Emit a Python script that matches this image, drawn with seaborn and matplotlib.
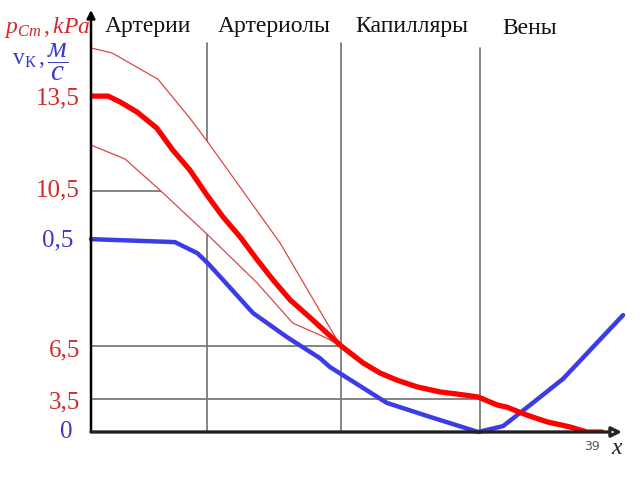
import numpy as np
import matplotlib
matplotlib.use('Agg')
import matplotlib.pyplot as plt
import seaborn as sns

sns.set_theme(style='white')
plt.rcParams['font.family'] = ['Liberation Serif', 'DejaVu Serif']
plt.rcParams['mathtext.fontset'] = 'custom'
plt.rcParams['mathtext.rm'] = 'Liberation Serif'
plt.rcParams['mathtext.it'] = 'Liberation Serif:italic'
plt.rcParams['mathtext.bf'] = 'Liberation Serif:bold'

# ---- data (x: position along the vessel, 0-100; y: schematic scale 0-100) ----
pressure_x = [0, 3.2, 5.5, 8.7, 12.4, 15.4, 18.6, 21.8, 24.9, 28.1, 31.3, 34.3, 37.5,
              41.8, 46.9, 51.2, 54.4, 57.6, 61.4, 65.7, 68.9, 72.9, 76.5, 78.3,
              82.1, 85.9, 90.2, 93.4, 96.2]
pressure_y = [79.6, 79.6, 78.2, 75.8, 72.0, 66.8, 62.1, 56.2, 50.9, 46.2, 40.8, 36.0, 31.3,
              26.5, 20.6, 16.4, 14.0, 12.3, 10.7, 9.5, 9.0, 8.3, 6.4, 5.9,
              4.0, 2.4, 1.2, 0.0, 0.0]

upper_x = [0, 4.0, 12.6, 18.6, 22.0, 35.6, 46.9]
upper_y = [91.0, 89.8, 83.6, 74.4, 68.7, 44.8, 20.6]

lower_x = [0, 6.4, 13.0, 22.0, 31.3, 38.0, 43.1, 46.9]
lower_y = [68.0, 64.7, 57.3, 46.7, 35.3, 25.8, 23.0, 20.6]

velocity_x = [0, 15.8, 20.0, 22.0, 24.9, 30.5, 36.9, 43.1, 45.0, 55.7, 63.8, 72.9,
              77.6, 82.7, 88.9, 100.2]
velocity_y = [45.7, 45.0, 42.4, 40.0, 36.0, 28.2, 22.5, 17.5, 15.4, 6.9, 3.6, 0.0,
              1.4, 6.4, 12.6, 27.7]

regions = ['Артерии', 'Артериолы', 'Капилляры', 'Вены']
region_x = [10.7, 34.5, 60.4, 82.6]
region_y = [94.8, 94.8, 94.8, 94.2]
boundaries_x = [21.8, 47.1, 73.3]
boundaries_top = [92.2, 92.2, 91.0]

hlines_y = [57.1, 20.4, 7.8]
hlines_end = [21.8, 47.1, 73.3]

tick_pos = [79.6, 57.8, 46.0, 19.9, 7.6, 0.5]
tick_labels = ['13,5', '10,5', '0,5', '6,5', '3,5', '0']
tick_kind = ['p', 'p', 'v', 'p', 'p', 'v']

RED_TXT = '#d42a2a'
BLUE_TXT = '#3a3ac8'
RED = '#ff0000'
THIN = '#d84848'
BLUE = '#3c3ce6'
GRAY = '#7a7a7a'

fig = plt.figure(figsize=(6.4, 4.8), dpi=100)
ax = fig.add_axes([91 / 640, 48 / 480, 531 / 640, 422 / 480])
ax.set_xlim(0, 100)
ax.set_ylim(0, 100)
for s in ax.spines.values():
    s.set_visible(False)
ax.set_xticks([])

# grid / boundary lines
for xb, top in zip(boundaries_x, boundaries_top):
    ax.plot([xb, xb], [0, top], color=GRAY, lw=1.3, zorder=1)
for yh, xe in zip(hlines_y, hlines_end):
    ax.plot([0, xe], [yh, yh], color=GRAY, lw=1.3, zorder=1)

# white band between the pressure envelope lines
ax.fill(np.r_[upper_x, lower_x[::-1]], np.r_[upper_y, lower_y[::-1]],
        color='white', zorder=2, lw=0)

sns.lineplot(x=upper_x, y=upper_y, ax=ax, color=THIN, lw=0.9, zorder=3, sort=False)
sns.lineplot(x=lower_x, y=lower_y, ax=ax, color=THIN, lw=0.9, zorder=3, sort=False)
sns.lineplot(x=velocity_x, y=velocity_y, ax=ax, color=BLUE, lw=3.2, zorder=4,
             sort=False, clip_on=False)
sns.lineplot(x=pressure_x, y=pressure_y, ax=ax, color=RED, lw=3.8, zorder=5, sort=False)

# axes arrows
ax.annotate('', xy=(0, 100), xytext=(0, 0), xycoords='data',
            arrowprops=dict(arrowstyle='-|>', lw=1.8, color='black',
                            mutation_scale=12, shrinkA=0, shrinkB=0),
            annotation_clip=False, zorder=6)
ax.annotate('', xy=(100, 0), xytext=(0, 0), xycoords='data',
            arrowprops=dict(arrowstyle='-|>', lw=2.4, ec='#222222', fc='white',
                            mutation_scale=15, shrinkA=0, shrinkB=0),
            annotation_clip=False, zorder=6)

# y tick labels
ax.set_yticks(tick_pos)
ax.set_yticklabels(tick_labels, fontsize=18)
ax.tick_params(axis='y', length=0)
for tick, lab, kind in zip(ax.yaxis.get_major_ticks(), ax.get_yticklabels(), tick_kind):
    lab.set_color(RED_TXT if kind == 'p' else BLUE_TXT)
    tick.set_pad(8 if kind == 'p' else 13)

# region names
for name, xr, yr in zip(regions, region_x, region_y):
    ax.text(xr, yr, name, ha='center', va='baseline', fontsize=17, color='#111111')

# axis titles
fig.text(4 / 640, 1 - 33 / 480, r'$p_{Ст}\,,kPa$', color=RED_TXT, fontsize=17,
         ha='left', va='baseline')
fig.text(12 / 640, 1 - 60 / 480, r'$\mathrm{v}_{\mathrm{К}}\,,$', color=BLUE_TXT,
         fontsize=17, ha='left', va='center')
fig.text(58 / 640, 1 - 62 / 480, r'$\dfrac{м}{c}$', color=BLUE_TXT,
         fontsize=21, ha='center', va='center')

fig.text(592 / 640, 1 - 447 / 480, '39', fontsize=9, color='#555555',
         family='DejaVu Sans', ha='center', va='center')
fig.text(617 / 640, 1 - 449 / 480, 'x', fontsize=17, style='italic', color='#222222',
         ha='center', va='center')

fig.savefig('out.png', dpi=100)
